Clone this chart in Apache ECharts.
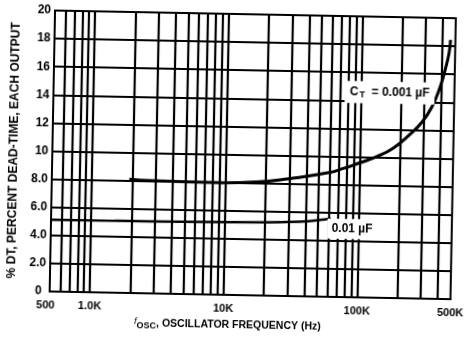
<!DOCTYPE html>
<html>
<head>
<meta charset="utf-8">
<script src="https://cdn.jsdelivr.net/npm/echarts@6/dist/echarts.min.js"></script>
<style>
html,body{margin:0;padding:0;background:#fff;overflow:hidden;}
#c{width:469px;height:342px;transform:rotate(1.1deg);transform-origin:50% 50%;}
</style>
</head>
<body>
<div id="c"></div>
<script>
// ---- data ----
const freqTicks = [500, 1000, 10000, 100000, 500000];
const freqTickLabels = ['500', '1.0K', '10K', '100K', '500K'];
const dtTicks = [0, 2, 4, 6, 8, 10, 12, 14, 16, 18, 20];
const dtTickLabels = ['0', '2.0', '4.0', '6.0', '8.0', '10', '12', '14', '16', '18', '20'];
const gridFreqs = [600, 700, 800, 900, 1000,
  2000, 3000, 4000, 5000, 6000, 7000, 8000, 9000, 10000,
  20000, 30000, 40000, 50000, 60000, 70000, 80000, 90000, 100000,
  200000, 300000, 400000];
const ct001Freq = [1900, 2800, 9600, 17000, 29500, 57800, 76500, 101000, 134000, 177000, 233000, 291000, 342000, 391000, 423000, 450000, 460000];
const ct001DT   = [8.09, 8.02, 7.98, 8.07, 8.35, 8.82, 9.17, 9.59, 10.04, 10.66, 11.63, 12.60, 13.68, 15.11, 16.31, 17.50, 18.45];
const ct01Freq  = [500, 1500, 4900, 15000, 35500, 55800, 61800];
const ct01DT    = [5.1, 5.12, 5.15, 5.2, 5.3, 5.5, 5.62];
const seriesNames = ['CT = 0.001 µF', '0.01 µF'];

// ---- annotation anchors (data coords) ----
const ct001LabelAt = [164000, 14.6];
const ct01LabelAt = [89700, 4.85];

const font = 'Liberation Sans, Arial, sans-serif';
const chart = echarts.init(document.getElementById('c'), null, {renderer: 'canvas'});

function zip(xs, ys) { return xs.map((x, i) => [x, ys[i]]); }

const option = {
  animation: false,
  backgroundColor: '#fff',
  grid: {left: 48, top: 14, right: 11, bottom: 47, show: true, borderColor: '#000', borderWidth: 2, backgroundColor: 'transparent'},
  xAxis: {
    type: 'log', logBase: 10, min: 500, max: 500000,
    axisLine: {show: true, lineStyle: {color: '#000', width: 2}},
    axisTick: {show: false},
    splitLine: {show: false},
    minorTick: {show: false},
    axisLabel: {
      show: true, showMinLabel: true, showMaxLabel: true, margin: 8,
      color: '#000', fontFamily: font, fontWeight: 'bold', fontSize: 11,
      formatter: function (v) {
        for (let i = 0; i < freqTicks.length; i++) {
          if (Math.abs(Math.log10(v) - Math.log10(freqTicks[i])) < 0.01) {
            return i === 0 ? '{lo|' + freqTickLabels[i] + '}' : freqTickLabels[i];
          }
        }
        return '';
      },
      rich: {lo: {padding: [0, 8, 0, 0], color: '#000', fontFamily: font, fontWeight: 'bold', fontSize: 11}}
    },
    name: '{f|f}{sub|OSC}{n|, OSCILLATOR FREQUENCY (Hz)}',
    nameLocation: 'middle', nameGap: 22,
    nameTextStyle: {
      padding: [0, 44, 0, 0],
      rich: {
        f: {fontFamily: font, fontStyle: 'italic', fontSize: 9, color: '#000', verticalAlign: 'top', padding: [0, 0, 4, 0]},
        sub: {fontFamily: font, fontWeight: 'bold', fontSize: 9, color: '#000', verticalAlign: 'bottom', padding: [4, 0, 0, 0]},
        n: {fontFamily: font, fontWeight: 'bold', fontSize: 10.5, color: '#000'}
      }
    }
  },
  yAxis: {
    type: 'value', min: 0, max: 20, interval: 2,
    axisLine: {show: true, lineStyle: {color: '#000', width: 2}},
    axisTick: {show: false},
    splitLine: {show: true, lineStyle: {color: '#000', width: 2.2}},
    axisLabel: {
      margin: 4, color: '#000', fontFamily: font, fontWeight: 'bold', fontSize: 12,
      formatter: function (v) {
        const i = dtTicks.indexOf(v);
        if (i < 0) return '';
        return i === 0 ? '{z|' + dtTickLabels[i] + '}' : dtTickLabels[i];
      },
      rich: {z: {padding: [0, 4, 0, 0], color: '#000', fontFamily: font, fontWeight: 'bold', fontSize: 12}}
    },
    name: '% DT, PERCENT DEAD-TIME, EACH OUTPUT',
    nameLocation: 'middle', nameGap: 32, nameRotate: 90,
    nameTextStyle: {color: '#000', fontFamily: font, fontWeight: 'bold', fontSize: 12}
  },
  series: [
    {
      type: 'line', data: [], z: 1, silent: true,
      markLine: {
        silent: true, symbol: ['none', 'none'], label: {show: false},
        lineStyle: {color: '#000', width: 2.2, type: 'solid'},
        data: gridFreqs.map(f => ({xAxis: f}))
      }
    },
    {
      name: seriesNames[0], type: 'line', z: 3,
      data: zip(ct001Freq, ct001DT),
      smooth: 0.5, showSymbol: false,
      lineStyle: {color: '#000', width: 3},
      markPoint: {
        symbolSize: 0, silent: true,
        data: [{coord: ct001LabelAt}],
        label: {
          show: true, position: 'inside',
          formatter: 'C{sub|T}  = 0.001 µF',
          color: '#000', fontFamily: font, fontWeight: 'bold', fontSize: 12,
          backgroundColor: '#fff', padding: [4, 5],
          rich: {sub: {fontFamily: font, fontWeight: 'bold', fontSize: 9, color: '#000', verticalAlign: 'bottom', padding: [5, 0, 0, 1]}}
        }
      }
    },
    {
      name: seriesNames[1], type: 'line', z: 3,
      data: zip(ct01Freq, ct01DT),
      smooth: 0.5, showSymbol: false,
      lineStyle: {color: '#000', width: 2.5},
      markPoint: {
        symbolSize: 0, silent: true,
        data: [{coord: ct01LabelAt}],
        label: {
          show: true, position: 'inside',
          formatter: '0.01 µF',
          color: '#000', fontFamily: font, fontWeight: 'bold', fontSize: 12,
          backgroundColor: '#fff', padding: [4, 4]
        }
      }
    }
  ]
};
chart.setOption(option);
</script>
</body>
</html>
